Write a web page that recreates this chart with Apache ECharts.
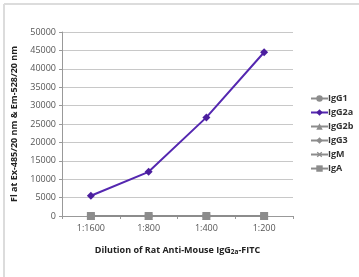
<!DOCTYPE html>
<html>
<head>
<meta charset="utf-8">
<script src="https://cdn.jsdelivr.net/npm/echarts@6/dist/echarts.min.js"></script>
<style>
  html, body { margin: 0; padding: 0; background: #fff; }
  #chart { width: 359px; height: 277px; }
</style>
</head>
<body>
<div id="chart"></div>
<script>
// dilutions along the x axis
const dilutions = ['1:1600', '1:800', '1:400', '1:200'];
// fluorescence readings per isotype
const igG1 = [0, 0, 0, 0];
const igG2a = [5500, 12000, 26800, 44500];
const igG2b = [0, 0, 0, 0];
const igG3 = [0, 0, 0, 0];
const igM = [0, 0, 0, 0];
const igA = [0, 0, 0, 0];

const font = 'Open Sans';
const gray = '#8c8c8c';

function grayLine(name, data, symbol, size, rotate) {
  return {
    name: name,
    type: 'line',
    data: data,
    symbol: symbol,
    symbolSize: size,
    symbolRotate: rotate || 0,
    itemStyle: { color: gray },
    lineStyle: { color: gray, width: 2 }
  };
}

const chart = echarts.init(document.getElementById('chart'));
chart.setOption({
  animation: false,
  textStyle: { fontFamily: font },
  graphic: [
    { type: 'line', shape: { x1: 4, y1: 4, x2: 359, y2: 4 }, style: { stroke: '#dcdcdc', lineWidth: 2 } },
    { type: 'line', shape: { x1: 4, y1: 4, x2: 4, y2: 277 }, style: { stroke: '#dcdcdc', lineWidth: 2 } }
  ],
  grid: { left: 62, right: 66, top: 32, bottom: 61 },
  legend: {
    orient: 'vertical',
    left: 305,
    top: 89,
    itemGap: 5,
    itemWidth: 17,
    itemHeight: 8,
    textStyle: { fontSize: 9, fontWeight: 'bold', color: '#333', padding: [0, 0, 0, -5] },
    data: ['IgG1', 'IgG2a', 'IgG2b', 'IgG3', 'IgM', 'IgA']
  },
  xAxis: {
    type: 'category',
    data: dilutions,
    boundaryGap: true,
    name: '{b|Dilution of Rat Anti-Mouse IgG}{s|2a}{b|-FITC}',
    nameLocation: 'middle',
    nameGap: 29,
    nameTextStyle: {
      rich: {
        b: { fontSize: 9, fontWeight: 'bold', color: '#222', fontFamily: font },
        s: { fontSize: 6.5, fontWeight: 'bold', color: '#222', fontFamily: font, verticalAlign: 'bottom', padding: [4, 0, 0, 0] }
      }
    },
    axisLine: { lineStyle: { color: '#999', width: 1 } },
    axisTick: { show: true, alignWithLabel: false, length: 3, lineStyle: { color: '#999' } },
    axisLabel: { fontSize: 9, color: '#555', margin: 8 }
  },
  yAxis: {
    type: 'value',
    min: 0,
    max: 50000,
    interval: 5000,
    name: 'Fl at Ex-485/20 nm & Em-528/20 nm',
    nameLocation: 'middle',
    nameGap: 41,
    nameTextStyle: { fontSize: 9, fontWeight: 'bold', color: '#222' },
    axisLine: { show: true, lineStyle: { color: '#999' } },
    axisTick: { show: true, length: 3, lineStyle: { color: '#999' } },
    axisLabel: { fontSize: 9, color: '#555', margin: 6, formatter: v => String(v) },
    splitLine: { lineStyle: { color: '#c8c8c8' } }
  },
  series: [
    grayLine('IgG1', igG1, 'circle', 8),
    {
      name: 'IgG2a',
      type: 'line',
      data: igG2a,
      symbol: 'diamond',
      symbolSize: 8,
      z: 5,
      itemStyle: { color: '#4b1e9e' },
      lineStyle: { color: '#5427b0', width: 2 }
    },
    grayLine('IgG2b', igG2b, 'triangle', 8),
    grayLine('IgG3', igG3, 'diamond', 7),
    grayLine('IgM', igM, 'path://M4,0h2v4h4v2h-4v4h-2v-4h-4v-2h4z', 8, 45),
    grayLine('IgA', igA, 'rect', 8)
  ]
});
</script>
</body>
</html>
